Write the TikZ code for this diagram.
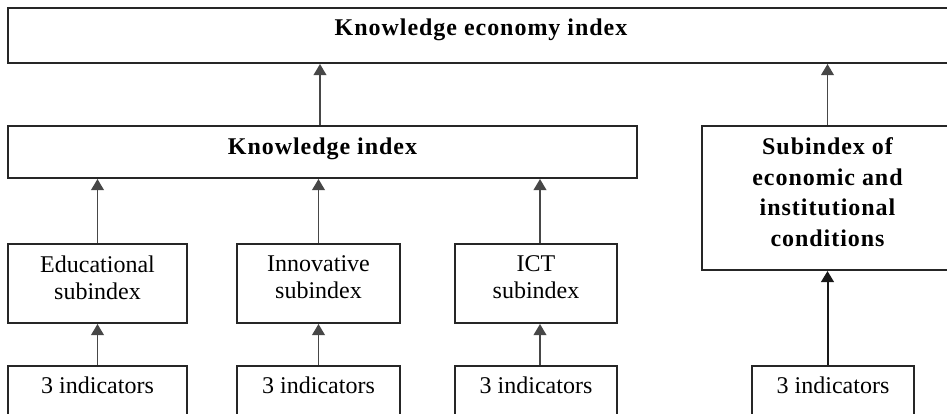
\documentclass[tikz,border=0pt]{standalone}
\usepackage{fontspec}
\setmainfont{Liberation Serif}
\newfontfamily\heavyfont[LetterSpace=4]{Liberation Serif Bold}
\usetikzlibrary{arrows.meta}

\begin{document}
\begin{tikzpicture}[x=0.5pt,y=-0.5pt,
    box/.style={draw=black!85, line width=1pt, inner sep=0pt, align=center,
        font=\fontsize{12}{13.5}\selectfont},
    head/.style={box, font=\heavyfont\fontsize{12}{15.35}\selectfont},
    oneline/.style={text height=8pt, text depth=8pt},
    twoline/.style={text depth=6pt},
    up/.style={draw=black!72, line width=0.8pt, -{Triangle[width=6.3pt,length=5.5pt]}},
    upbold/.style={up, draw=black!90, line width=1pt}]
\path[use as bounding box, clip] (0,0) rectangle (947,413);

\node[head, oneline, minimum width=473pt, minimum height=27.5pt] (kei) at (481,35.5) {Knowledge economy index};
\node[head, text height=8pt, text depth=6pt, minimum width=314.5pt, minimum height=26pt] (ki) at (322.5,152) {Knowledge index};
\node[head, twoline, minimum width=125.5pt, minimum height=72pt] (eic) at (827.5,198) {Subindex of\\economic and\\institutional\\conditions};

\node[box, twoline, minimum width=89.5pt, minimum height=39.5pt] (edu) at (97.5,283.5) {Educational\\subindex};
\node[box, twoline, minimum width=81.5pt, minimum height=39.5pt] (inn) at (318.5,283.5) {Innovative\\subindex};
\node[box, twoline, minimum width=81pt, minimum height=39.5pt] (ict) at (536,283.5) {ICT\\subindex};

\node[box, oneline, minimum width=89.5pt, minimum height=27pt] (edu3) at (97.5,393) {3 indicators};
\node[box, oneline, minimum width=81.5pt, minimum height=27pt] (inn3) at (318.5,393) {3 indicators};
\node[box, oneline, minimum width=81pt, minimum height=27pt] (ict3) at (536,393) {3 indicators};
\node[box, oneline, minimum width=81pt, minimum height=27pt] (eic3) at (833,393) {3 indicators};

\draw[up] (edu3.north) -- (edu.south);
\draw[up] (inn3.north) -- (inn.south);
\draw[up] ([xshift=2pt]ict3.north) -- ([xshift=2pt]ict.south);
\draw[upbold] (eic3.north -| eic.south) -- (eic.south);

\draw[up] (edu.north) -- (edu.north |- ki.south);
\draw[up] (inn.north) -- (inn.north |- ki.south);
\draw[up] ([xshift=2pt]ict.north) -- ([xshift=2pt]ict.north |- ki.south);

\draw[up] ([xshift=-1.25pt]ki.north) -- ([xshift=-1.25pt]ki.north |- kei.south);
\draw[up] (eic.north) -- (eic.north |- kei.south);

\end{tikzpicture}
\end{document}
